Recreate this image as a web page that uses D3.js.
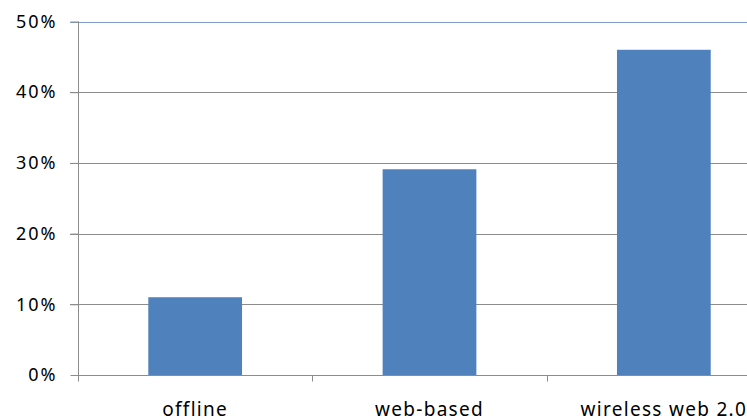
<!DOCTYPE html>
<html><head><meta charset="utf-8">
<script src="https://cdn.jsdelivr.net/npm/d3@7"></script>
<style>body{margin:0;background:#fff}svg{display:block}</style>
</head><body>
<script>
const categories = ["offline", "web-based", "wireless web 2.0"];
const values = [0.11, 0.291, 0.46];
const yTicks = [0, 0.1, 0.2, 0.3, 0.4, 0.5];

(function () {
const W = 747, H = 418;
const mLeft = 78, mRight = 781, mTop = 21.5, mBottom = 375;
const svg = d3.select("body").append("svg").attr("width", W).attr("height", H);

const x = d3.scaleBand().domain(categories).range([mLeft, mRight]).paddingInner(0).paddingOuter(0);
const y = d3.scaleLinear().domain([0, 0.5]).range([mBottom, mTop]);
const barW = x.bandwidth() * 0.4;

// gridlines
svg.append("g").selectAll("line").data(yTicks.slice(1)).join("line")
  .attr("x1", mLeft - 8).attr("x2", mRight)
  .attr("y1", d => Math.round(y(d)) + 0.5).attr("y2", d => Math.round(y(d)) + 0.5)
  .attr("stroke", d => d === 0.5 ? "#7f9ccc" : "#8c8c8c").attr("stroke-width", 1);

// bars
svg.append("g").selectAll("rect").data(categories).join("rect")
  .attr("x", d => x(d) + (x.bandwidth() - barW) / 2)
  .attr("width", barW)
  .attr("y", (d, i) => y(values[i]))
  .attr("height", (d, i) => mBottom - y(values[i]))
  .attr("fill", "#4f81bd");

// y axis
const yAxis = svg.append("g").attr("transform", `translate(${mLeft + 0.5},0)`)
  .call(d3.axisLeft(y).tickValues(yTicks).tickSize(8).tickPadding(13).tickFormat(d3.format(".0%")));
yAxis.select(".domain").attr("stroke", "#8c8c8c").attr("d", `M0,${mTop}V${mBottom + 6}`);
yAxis.selectAll(".tick line").attr("stroke", "#8c8c8c");
yAxis.selectAll("text").attr("font-family", "Noto Sans").attr("font-size", 18)
  .attr("letter-spacing", 2).attr("fill", "#000");

// x axis
const xAxis = svg.append("g").attr("transform", `translate(0,${mBottom + 0.5})`);
xAxis.append("line").attr("x1", mLeft).attr("x2", mRight).attr("stroke", "#8c8c8c");
const boundaries = categories.map(c => x(c)).concat([x(categories[categories.length - 1]) + x.bandwidth()]);
xAxis.selectAll(".tk").data(boundaries).join("line").attr("class", "tk")
  .attr("x1", d => Math.round(d) + 0.5).attr("x2", d => Math.round(d) + 0.5)
  .attr("y1", 0).attr("y2", 6).attr("stroke", "#8c8c8c");
xAxis.selectAll("text").data(categories).join("text")
  .attr("x", d => x(d) + x.bandwidth() / 2).attr("y", 40)
  .attr("text-anchor", "middle").attr("font-family", "Noto Sans").attr("font-size", 19)
  .attr("letter-spacing", 1.3).attr("fill", "#000").text(d => d);
})();
</script>
</body></html>
